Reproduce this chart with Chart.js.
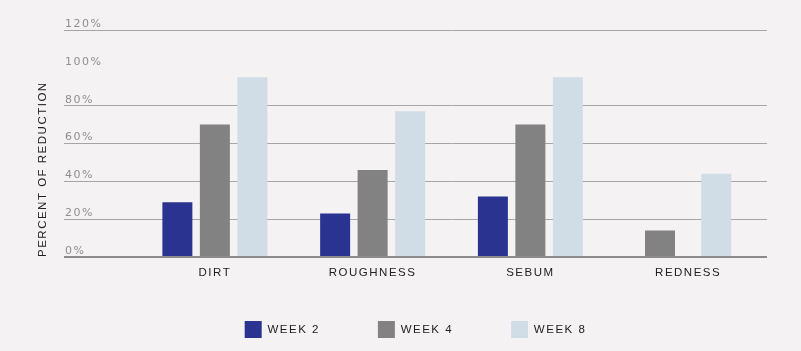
<!DOCTYPE html>
<html>
<head>
<meta charset="utf-8">
<script src="https://cdn.jsdelivr.net/npm/chart.js@4"></script>
<style>
  body { margin: 0; background: #f4f2f3; }
  .wrap { width: 801px; height: 351px; }
</style>
</head>
<body>
<div class="wrap"><canvas id="chart"></canvas></div>
<script>
const categories = ["DIRT", "ROUGHNESS", "SEBUM", "REDNESS"];
const week2 = [29, 23, 32, null];
const week4 = [70, 46, 70, 14];
const week8 = [95, 77, 95, 44];
const seriesNames = ["WEEK 2", "WEEK 4", "WEEK 8"];
const yMax = 120;
const yStep = 20;

const labelFont = { family: "Liberation Sans", size: 11.5 };

// the original text is tracked out a little
const trackText = {
  id: "trackText",
  beforeUpdate(chart) { chart.ctx.letterSpacing = "1.5px"; },
  beforeDraw(chart) { chart.ctx.letterSpacing = "1.5px"; }
};

const ctx = document.getElementById("chart").getContext("2d");
new Chart(ctx, {
  type: "bar",
  data: {
    labels: categories,
    datasets: [
      { label: seriesNames[0], data: week2, backgroundColor: "#2b3390" },
      { label: seriesNames[1], data: week4, backgroundColor: "#828282" },
      { label: seriesNames[2], data: week8, backgroundColor: "#d1dde6" },
    ],
  },
  options: {
    responsive: true,
    maintainAspectRatio: false,
    animation: false,
    skipNull: true,
    maxBarThickness: 30,
    barPercentage: 0.8,
    categoryPercentage: 0.713,
    borderWidth: 0,
    layout: { padding: { top: 30, right: 34, bottom: 3, left: 64 } },
    scales: {
      x: {
        grid: { display: false },
        border: { display: false },
        // mirrored so the labels are not clipped to the thin axis box
        ticks: { color: "#222", font: labelFont, mirror: true, padding: -23 },
        afterFit: (s) => { s.height = 6; },
      },
      y: {
        min: 0,
        max: yMax,
        border: { display: false },
        grid: {
          color: (c) => c.tick && c.tick.value === 100 ? "rgba(0,0,0,0)" : (c.tick && c.tick.value === 0 ? "#8c8c8c" : "#a6a6a6"),
          lineWidth: (c) => c.tick && c.tick.value === 0 ? 2 : 1,
          tickLength: 72,
        },
        ticks: {
          stepSize: yStep,
          mirror: true,
          padding: -71,
          labelOffset: -6,
          color: "#8f8f8f",
          font: { family: "DejaVu Sans", size: 11 },
          callback: (v) => v + "%",
        },
        title: {
          display: true,
          text: "PERCENT OF REDUCTION",
          align: "start",
          color: "#222",
          font: labelFont,
          padding: { top: -28, bottom: 0 },
        },
        afterFit: (s) => { s.width = 72; },
      },
    },
    plugins: {
      tooltip: { enabled: false },
      legend: {
        position: "bottom",
        labels: {
          boxWidth: 17,
          boxHeight: 17,
          padding: 58,
          color: "#222",
          font: labelFont,
        },
      },
    },
  },
  plugins: [trackText],
});
</script>
</body>
</html>
